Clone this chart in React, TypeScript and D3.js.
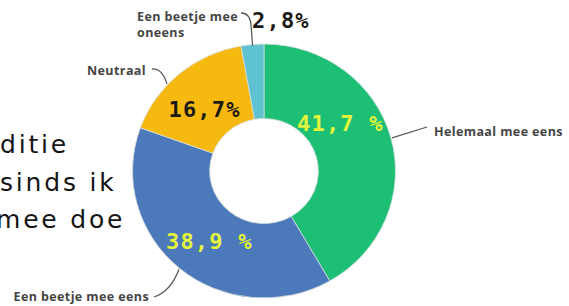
import * as d3 from "d3";

const categories = [
  "Helemaal mee eens",
  "Een beetje mee eens",
  "Neutraal",
  "Een beetje mee oneens",
];
const shares = [41.7, 38.9, 16.7, 2.8];
const shareLabels = ["41,7 %", "38,9 %", "16,7%", "2,8%"];
const sideText = ["ditie", "sinds ik", "mee doe"];

const sliceColors = ["#1cbf73", "#4b79ba", "#f6b90f", "#5ec2d1"];
const shareColors = ["#e4f43c", "#e4f43c", "#1c1a14", "#1c1a14"];

const W = 569;
const H = 306;
const cx = 264;
const cy = 171;
const sx = 1.035; // picture is a bit wider than tall
const rOuter = 127;
const rInner = 52.5;

// layout for labels / leader lines, one entry per category
const layout = [
  { leaderShift: 0, labelShift: -18, labelR: 88, lines: [[434, 136]], anchor: "start", end: [427, 127], ctrl: null },
  { leaderShift: 0, labelShift: -3, labelR: 88, lines: [[149, 301]], anchor: "end", end: [154, 297], ctrl: [171, 291] },
  { leaderShift: -7, labelShift: -3, labelR: 84, lines: [[146, 75]], anchor: "end", end: [152, 69], ctrl: [162, 68] },
  { leaderShift: 0, labelShift: 0, labelR: 0, lines: [[137, 21], [137, 37]], anchor: "start", end: [241, 13], ctrl: [250, 13] },
];

function polar(angle: number, r: number): [number, number] {
  return [cx + Math.sin(angle) * r * sx, cy - Math.cos(angle) * r];
}

function App() {
  const pie = d3.pie<number>().sort(null).value((d) => d);
  const arcs = pie(shares);
  const arc = d3.arc<d3.PieArcDatum<number>>().innerRadius(rInner).outerRadius(rOuter);
  const rad = (deg: number) => (deg * Math.PI) / 180;

  const catFont = "'Open Sans', 'DejaVu Sans', sans-serif";
  const pctFont = "'DejaVu Sans Mono', monospace";

  return (
    <svg
      width={W}
      height={H}
      viewBox={`0 0 ${W} ${H}`}
      style={{ position: "absolute", left: 0, top: 0, background: "#fff" }}
    >
      {/* left text, cut off by the crop */}
      {sideText.map((t, i) => (
        <text
          key={t}
          x={i === 2 ? -4 : 0}
          y={153 + i * 37.5}
          fontFamily="'DejaVu Sans', Verdana, sans-serif"
          fontSize={25}
          letterSpacing={2.8}
          fill="#151515"
        >
          {t}
        </text>
      ))}

      <g transform={`translate(${cx},${cy}) scale(${sx},1)`}>
        {arcs.map((a, i) => (
          <path
            key={categories[i]}
            d={arc(a) || ""}
            fill={sliceColors[i]}
            stroke="#d8dde0"
            strokeWidth={0.8}
            vectorEffect="non-scaling-stroke"
          />
        ))}
      </g>

      {/* leader lines */}
      {arcs.map((a, i) => {
        const L = layout[i];
        const mid = (a.startAngle + a.endAngle) / 2 + rad(L.leaderShift);
        const [ex, ey] = polar(mid, i === 3 ? rOuter - 1 : rOuter + 1);
        const path = d3.path();
        path.moveTo(ex, ey);
        if (i === 3) {
          path.lineTo(ex - 1.5, 25);
          path.quadraticCurveTo(L.ctrl![0], L.ctrl![1], L.end[0], L.end[1]);
        } else if (L.ctrl) {
          path.quadraticCurveTo(L.ctrl[0], L.ctrl[1], L.end[0], L.end[1]);
        } else {
          path.lineTo(L.end[0], L.end[1]);
        }
        return (
          <path
            key={"l" + i}
            d={path.toString()}
            fill="none"
            stroke="#5a5a5a"
            strokeWidth={1.3}
          />
        );
      })}

      {/* category labels */}
      {categories.map((c, i) => {
        const L = layout[i];
        const parts = i === 3 ? ["Een beetje mee", "oneens"] : [c];
        return parts.map((p, j) => (
          <text
            key={c + j}
            x={L.lines[j][0]}
            y={L.lines[j][1]}
            textAnchor={L.anchor as any}
            fontFamily={catFont}
            fontWeight={700}
            fontSize={12.5}
            letterSpacing={0.4}
            fill="#454545"
          >
            {p}
          </text>
        ));
      })}

      {/* share labels */}
      {arcs.map((a, i) => {
        const L = layout[i];
        let x: number;
        let y: number;
        let anchor = "middle";
        if (i === 3) {
          x = 252;
          y = 28;
          anchor = "start";
        } else {
          const mid = (a.startAngle + a.endAngle) / 2 + rad(L.labelShift);
          [x, y] = polar(mid, L.labelR);
          y += 7.5;
        }
        return (
          <text
            key={"p" + i}
            x={x}
            y={y}
            textAnchor={anchor as any}
            fontFamily={pctFont}
            fontWeight={700}
            fontSize={22}
            letterSpacing={1.2}
            fill={shareColors[i]}
          >
            {shareLabels[i]}
          </text>
        );
      })}
    </svg>
  );
}

export default App;
